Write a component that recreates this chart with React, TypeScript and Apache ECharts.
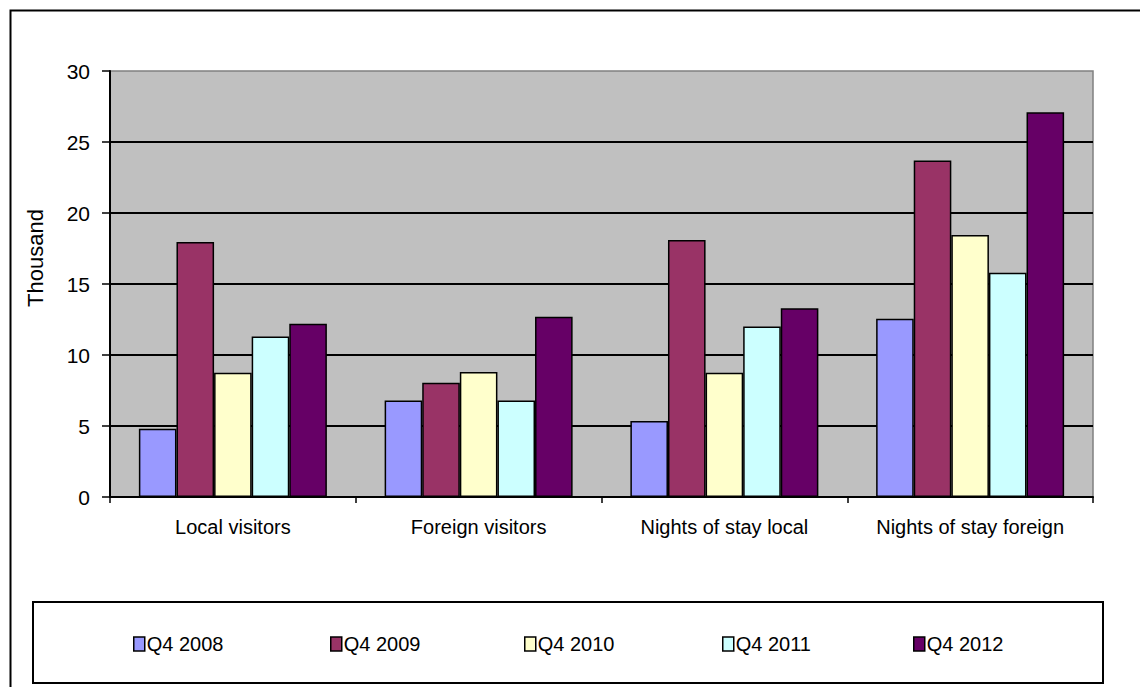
import React, { useEffect, useRef } from "react";
import * as echarts from "echarts";

const categories = ["Local visitors", "Foreign visitors", "Nights of stay local", "Nights of stay foreign"];
const seriesNames = ["Q4 2008", "Q4 2009", "Q4 2010", "Q4 2011", "Q4 2012"];
const q42008 = [4.8, 6.8, 5.35, 12.55];
const q42009 = [17.95, 8.05, 18.1, 23.7];
const q42010 = [8.75, 8.8, 8.75, 18.45];
const q42011 = [11.3, 6.8, 12.0, 15.8];
const q42012 = [12.2, 12.7, 13.3, 27.1];
const colors = ["#9999FF", "#993366", "#FFFFCC", "#CCFFFF", "#660066"];
const yTicks = { min: 0, max: 30, interval: 5 };

const FONT = "'Liberation Sans Narrow', 'Liberation Sans', Arial, sans-serif";

export default function App() {
  const ref = useRef<HTMLDivElement>(null);
  useEffect(() => {
    if (!ref.current) return;
    const chart = echarts.init(ref.current, null, { renderer: "svg" });
    const values = [q42008, q42009, q42010, q42011, q42012];
    const legendLefts = [125, 322, 516, 714, 905];
    chart.setOption({
      animation: false,
      backgroundColor: "#ffffff",
      textStyle: { fontFamily: FONT },
      grid: { left: 102, top: 63, width: 983, height: 426, show: true, backgroundColor: "#C0C0C0", borderColor: "#808080", borderWidth: 1.5 },
      legend: seriesNames.map((n, i) => ({
        data: [n],
        left: legendLefts[i],
        top: 626,
        padding: 0,
        itemWidth: 11,
        itemHeight: 14,
        itemGap: 0,
        icon: "rect",
        selectedMode: false,
        itemStyle: { borderColor: "#000", borderWidth: 1.5 },
        textStyle: { fontSize: 20, color: "#000", fontFamily: FONT, padding: [0, 0, 0, -3] },
      })),
      xAxis: {
        type: "category",
        data: categories,
        axisLine: { show: true, lineStyle: { color: "#000", width: 2 } },
        axisTick: { show: true, length: 6, lineStyle: { color: "#000", width: 1.5 } },
        axisLabel: { fontSize: 20, color: "#000", margin: 20, fontFamily: FONT },
        splitLine: { show: false },
      },
      yAxis: {
        type: "value",
        min: yTicks.min,
        max: yTicks.max,
        interval: yTicks.interval,
        axisLine: { show: true, lineStyle: { color: "#000", width: 2 } },
        axisTick: { show: true, length: 8, lineStyle: { color: "#000", width: 1.5 } },
        axisLabel: { fontSize: 21, color: "#000", margin: 20, fontFamily: FONT },
        splitLine: { show: true, showMinLine: false, showMaxLine: false, lineStyle: { color: "#000", width: 2 } },
      },
      graphic: [
        { type: "rect", left: 0, top: 0, shape: { x: 0, y: 0, width: 1300, height: 800 }, style: { fill: "none", stroke: "#000", lineWidth: 2 }, silent: true, z: -10 },
        { type: "rect", shape: { x: 25, y: 594, width: 1070, height: 81 }, style: { fill: "none", stroke: "#000", lineWidth: 2 }, silent: true },
        { type: "text", x: 27, y: 250, rotation: Math.PI / 2, style: { text: "Thousand", fontSize: 22, fill: "#000", fontFamily: FONT, textAlign: "center", textVerticalAlign: "middle" }, silent: true },
      ],
      series: seriesNames.map((n, i) => ({
        name: n,
        type: "bar",
        data: values[i],
        barCategoryGap: "23.5%",
        barGap: "0%",
        itemStyle: { color: colors[i], borderColor: "#000", borderWidth: 1.5 },
      })),
    });
    return () => chart.dispose();
  }, []);
  return <div ref={ref} style={{ width: 1140, height: 679 }} />;
}
